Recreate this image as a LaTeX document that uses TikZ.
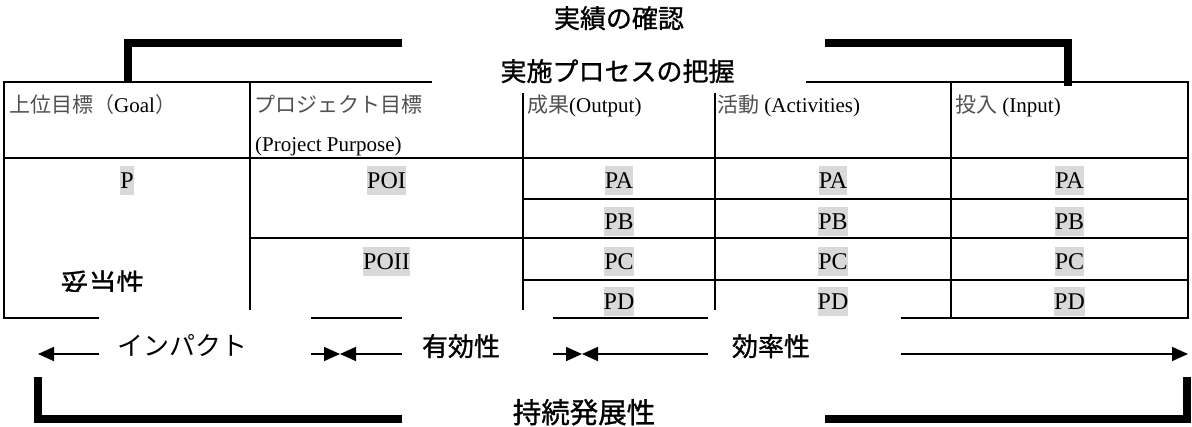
\documentclass[tikz,border=0pt]{standalone}
\usepackage{fontspec}
\setmainfont{Liberation Serif}
\newfontfamily\jp{Noto Sans CJK JP}
\newfontfamily\jpb[FakeBold=1]{Noto Sans CJK JP}
\usetikzlibrary{arrows.meta}
\definecolor{hlgray}{HTML}{D9D9D9}
\definecolor{hdrjp}{HTML}{505050}
\begin{document}
\begin{tikzpicture}[x=1pt,y=-1pt,
  tbl/.style={line width=1.6pt},
  brk/.style={line width=8pt, line cap=butt, line join=miter},
  arr/.style={line width=1.6pt, -{Triangle[length=16pt,width=14pt]}},
  wbox/.style={fill=white, draw=none, inner sep=0pt},
  hdr/.style={anchor=base west, inner sep=0pt, font=\fontsize{21}{21}\selectfont},
  cell/.style={anchor=base, fill=hlgray, inner sep=0pt, text height=22.5pt, text depth=6.5pt, font=\fontsize{24}{24}\selectfont},
  ttl/.style={anchor=base, inner sep=0pt, font=\jpb\fontsize{26}{26}\selectfont}
]
\useasboundingbox (0,0) rectangle (1192,427);

% ---- table lines ----
\draw[tbl] (4,82) rectangle (1188,318);
\draw[tbl] (4,158) -- (1188,158);
\draw[tbl] (523,199) -- (1188,199);
\draw[tbl] (250,238) -- (1188,238);
\draw[tbl] (523,280) -- (1188,280);
\foreach \cx in {250,523,715,951} \draw[tbl] (\cx,82) -- (\cx,318);

% ---- brackets ----
\coordinate (tlA) at (128,83);   \coordinate (tlB) at (402,43);
\coordinate (trA) at (825,43);   \coordinate (trB) at (1068,86);
\coordinate (blA) at (38,377);   \coordinate (blB) at (402,419);
\coordinate (brA) at (825,419);  \coordinate (brB) at (1187,377);
\draw[brk] (tlA) |- (tlB);
\draw[brk] (trA) -| (trB);
\draw[brk] (blA) |- (blB);
\draw[brk] (brA) -| (brB);

% ---- white label boxes ----
\node[wbox, minimum width=423pt, minimum height=50pt] (boxTop)  at (613.5,25) {};
\node[wbox, minimum width=374pt, minimum height=41pt] (boxProc) at (619,72.5) {};
\node[wbox, minimum width=212pt, minimum height=88pt] (boxImp)  at (205,354) {};
\node[wbox, minimum width=151pt, minimum height=88pt] (boxEff)  at (477.5,354) {};
\node[wbox, minimum width=193pt, minimum height=88pt] (boxEfc)  at (804.5,354) {};
\node[wbox, minimum width=423pt, minimum height=28pt] (boxSus)  at (613.5,413) {};

% ---- arrows ----
\coordinate (aL)  at (38,354);
\coordinate (aM1) at (340,354);
\coordinate (aM2) at (582,354);
\coordinate (aR)  at (1188,354);
\draw[arr] (boxImp.west) -- (aL);
\draw[arr] (boxImp.east) -- (aM1);
\draw[arr] (boxEff.west) -- (aM1);
\draw[arr] (boxEff.east) -- (aM2);
\draw[arr] (boxEfc.west) -- (aM2);
\draw[arr] (boxEfc.east) -- (aR);

% ---- titles ----
\node[ttl] (tTop)  at (619,28)   {実績の確認};
\node[ttl] (tProc) at (617.5,81) {実施プロセスの把握};
\node[ttl, font=\jp\fontsize{26}{26}\selectfont] (tImp)  at (182.5,356) {インパクト};
\node[ttl] (tEff)  at (461,356)  {有効性};
\node[ttl] (tEfc)  at (771,356)  {効率性};
\node[ttl, font=\jpb\fontsize{28.5}{28.5}\selectfont] (tSus) at (584,423) {持続発展性};
\begin{scope}
  \clip (40,250) rectangle (200,292);
  \node[ttl, font=\jpb\fontsize{28}{28}\selectfont] (tVal) at (102.5,294) {妥当性};
\end{scope}

% ---- headers ----
\node[hdr] (h1)  at (9,113)   {{\jp\color{hdrjp}上位目標（}Goal{\jp\color{hdrjp}）}};
\node[hdr] (h2a) at (254,113) {{\jp\color{hdrjp}プロジェクト目標}};
\node[hdr] (h2b) at (255,152) {(Project Purpose)};
\node[hdr] (h3)  at (527,113) {{\jp\color{hdrjp}成果}(Output)};
\node[hdr] (h4)  at (717,113) {{\jp\color{hdrjp}活動} (Activities)};
\node[hdr] (h5)  at (955,113) {{\jp\color{hdrjp}投入} (Input)};

% ---- cells ----
\node[cell] (p1)   at (127,188.5)   {P};
\node[cell] (poi)  at (386.5,188.5) {POI};
\node[cell] (poii) at (386.5,269.5) {POII};
\foreach \cx/\nm in {619/o,833/a,1069.5/i}{
  \node[cell] (\nm A) at (\cx,188.5) {PA};
  \node[cell] (\nm B) at (\cx,229.5) {PB};
  \node[cell] (\nm C) at (\cx,269.5) {PC};
  \node[cell] (\nm D) at (\cx,309.5) {PD};
}
\end{tikzpicture}
\end{document}
